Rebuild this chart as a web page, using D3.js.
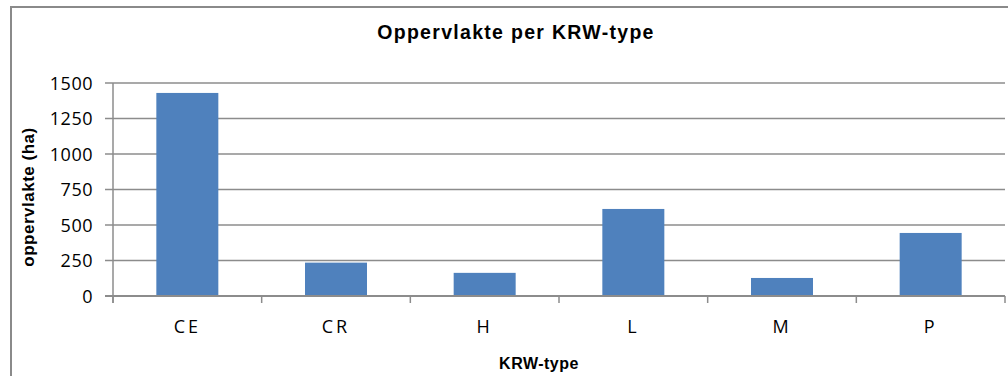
<!DOCTYPE html>
<html>
<head>
<meta charset="utf-8">
<script src="https://cdn.jsdelivr.net/npm/d3@7"></script>
<style>
  html, body { margin: 0; padding: 0; background: #fff; }
  svg { display: block; }
</style>
</head>
<body>
<svg id="chart" width="1008" height="376"></svg>
<script>
// Surface area per KRW water type (ha)
const categories = ["CE", "CR", "H", "L", "M", "P"];
const values = [1430, 235, 163, 613, 127, 444];
const yTicks = [0, 250, 500, 750, 1000, 1250, 1500];

const chartTitle = "Oppervlakte per KRW-type";
const xTitle = "KRW-type";
const yTitle = "oppervlakte (ha)";

const svg = d3.select("#chart");
const plot = { left: 113, right: 1005, top: 83, bottom: 296 };

const gridColor = "#8c8c8c";
const barColor = "#4F81BD";
const tickFont = "'Open Sans', 'Liberation Sans', sans-serif";
const titleFont = "'Liberation Sans', Arial, sans-serif";

// outer chart frame
svg.append("rect")
  .attr("x", 11).attr("y", 7)
  .attr("width", 1010).attr("height", 400)
  .attr("fill", "#fff")
  .attr("stroke", "#8a8a8a").attr("stroke-width", 2);

const x = d3.scaleBand()
  .domain(categories)
  .range([plot.left, plot.right])
  .paddingInner(0.583)
  .paddingOuter(0.2915);

const y = d3.scaleLinear()
  .domain([0, 1500])
  .range([plot.bottom, plot.top]);

// horizontal gridlines with left tick marks
svg.append("g")
  .selectAll("line")
  .data(yTicks)
  .join("line")
  .attr("x1", plot.left - 8).attr("x2", plot.right)
  .attr("y1", d => y(d)).attr("y2", d => y(d))
  .attr("stroke", gridColor).attr("stroke-width", 1.5);

// bars
svg.append("g")
  .selectAll("rect")
  .data(categories)
  .join("rect")
  .attr("x", d => x(d))
  .attr("width", x.bandwidth())
  .attr("y", (d, i) => y(values[i]))
  .attr("height", (d, i) => y(0) - y(values[i]))
  .attr("fill", barColor);

// y axis line
svg.append("line")
  .attr("x1", plot.left).attr("x2", plot.left)
  .attr("y1", plot.top).attr("y2", plot.bottom + 7)
  .attr("stroke", gridColor).attr("stroke-width", 1.5);

// x axis baseline
svg.append("line")
  .attr("x1", plot.left - 8).attr("x2", plot.right)
  .attr("y1", y(0)).attr("y2", y(0))
  .attr("stroke", gridColor).attr("stroke-width", 2);

// x tick marks at category boundaries
const step = x.step();
svg.append("g")
  .selectAll("line")
  .data(d3.range(categories.length + 1))
  .join("line")
  .attr("x1", i => plot.left + i * step).attr("x2", i => plot.left + i * step)
  .attr("y1", y(0)).attr("y2", y(0) + 7)
  .attr("stroke", gridColor).attr("stroke-width", 1.5);

// y tick labels
svg.append("g")
  .selectAll("text")
  .data(yTicks)
  .join("text")
  .attr("x", 93)
  .attr("y", d => y(d) + 6.5)
  .attr("text-anchor", "end")
  .attr("font-family", tickFont)
  .attr("font-size", 18)
  .attr("letter-spacing", 0.5)
  .attr("fill", "#000")
  .text(d => d);

// x tick labels
svg.append("g")
  .selectAll("text")
  .data(categories)
  .join("text")
  .attr("x", d => x(d) + x.bandwidth() / 2)
  .attr("y", 333)
  .attr("text-anchor", "middle")
  .attr("font-family", tickFont)
  .attr("font-size", 18)
  .attr("letter-spacing", 3)
  .attr("fill", "#000")
  .text(d => d);

// chart title
svg.append("text")
  .attr("x", 516).attr("y", 39)
  .attr("text-anchor", "middle")
  .attr("font-family", titleFont)
  .attr("font-weight", "bold")
  .attr("font-size", 19.5)
  .attr("letter-spacing", 1.3)
  .text(chartTitle);

// x axis title
svg.append("text")
  .attr("x", 539).attr("y", 369)
  .attr("text-anchor", "middle")
  .attr("font-family", titleFont)
  .attr("font-weight", "bold")
  .attr("font-size", 16)
  .attr("letter-spacing", 0.5)
  .text(xTitle);

// y axis title
svg.append("text")
  .attr("transform", "translate(34, 197) rotate(-90)")
  .attr("text-anchor", "middle")
  .attr("font-family", titleFont)
  .attr("font-weight", "bold")
  .attr("font-size", 17)
  .attr("letter-spacing", 0.5)
  .text(yTitle);
</script>
</body>
</html>
